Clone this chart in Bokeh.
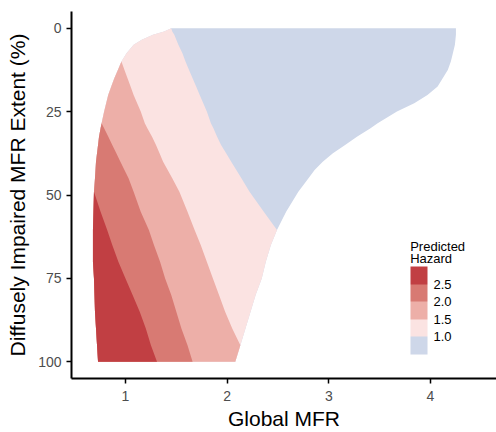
import numpy as np
from bokeh.plotting import figure
from bokeh.models import (Range1d, FixedTicker, ColorBar, LinearColorMapper,
                          PrintfTickFormatter, Label)
from bokeh.embed import file_html
from bokeh.resources import INLINE

# ---- data (boundaries of the predicted-hazard bands) ----
y_levels = [0, 1, 2, 3.5, 5, 7.5, 10, 12.5, 15, 17.5, 20, 22.5, 25, 28.5, 30, 32.5,
            35, 37.5, 40, 42.5, 45, 49, 55, 60.5, 65, 70, 75, 80, 85, 90, 95, 100]
left_edge = [1.45, 1.38, 1.27, 1.16, 1.08, 1.01, 0.96, 0.925, 0.89, 0.86, 0.83, 0.81,
             0.79, 0.765, 0.755, 0.74, 0.73, 0.72, 0.71, 0.705, 0.70, 0.69, 0.685,
             0.68, 0.68, 0.68, 0.69, 0.695, 0.70, 0.71, 0.72, 0.73]
right_edge = [4.25, 4.25, 4.25, 4.245, 4.24, 4.22, 4.20, 4.17, 4.12, 4.07, 3.97, 3.84,
              3.67, 3.48, 3.41, 3.28, 3.16, 3.04, 2.94, 2.86, 2.80, 2.70, 2.58, 2.49,
              2.43, 2.38, 2.34, 2.28, 2.23, 2.18, 2.13, 2.08]
nan = float("nan")
contour_2_5 = [nan] * 21 + [0.69, 0.755, 0.82, 0.87, 0.93, 1.00, 1.07, 1.14, 1.20,
                            1.25, 1.31]
contour_2_0 = [nan] * 13 + [0.765, 0.79, 0.83, 0.87, 0.91, 0.95, 0.99, 1.03, 1.08,
                            1.15, 1.23, 1.28, 1.34, 1.39, 1.45, 1.50, 1.55, 1.61,
                            1.66]
contour_1_5 = [nan] * 6 + [0.96, 0.99, 1.02, 1.05, 1.08, 1.115, 1.15, 1.19, 1.215,
                           1.26, 1.30, 1.335, 1.37, 1.415, 1.46, 1.53, 1.61, 1.68,
                           1.74, 1.80, 1.86, 1.92, 1.98, 2.05, 2.13] + [nan]
contour_1_0 = [1.45, 1.46, 1.48, 1.50, 1.52, 1.56, 1.59, 1.625, 1.66, 1.695, 1.73,
               1.765, 1.80, 1.84, 1.865, 1.90, 1.94, 1.99, 2.04, 2.09, 2.14, 2.22,
               2.36, 2.49] + [nan] * 8

hazard_breaks = [1.0, 1.5, 2.0, 2.5]
band_colors = ["#CED7E9", "#FBE3E2", "#EDAFA8", "#D87A73", "#C13F43"]  # low -> high
x_ticks = [1, 2, 3, 4]
y_ticks = [0, 25, 50, 75, 100]

FONT = "Liberation Sans"

Y = np.array(y_levels, dtype=float)
L = np.array(left_edge, dtype=float)
R = np.array(right_edge, dtype=float)


def close_contour(c):
    """Where a contour does not exist, pin it to the domain edge."""
    c = np.array(c, dtype=float)
    valid = np.where(~np.isnan(c))[0]
    out = c.copy()
    out[:valid[0]] = L[:valid[0]]
    out[valid[-1] + 1:] = R[valid[-1] + 1:]
    return out


c10 = close_contour(contour_1_0)
c15 = close_contour(contour_1_5)
c20 = close_contour(contour_2_0)
c25 = close_contour(contour_2_5)

p = figure(width=496, height=432, output_backend="svg", toolbar_location=None,
           x_range=Range1d(0.469, 4.649), y_range=Range1d(105, -5),
           min_border_left=71, min_border_right=0, min_border_top=11,
           min_border_bottom=52)
p.outline_line_color = None
p.grid.visible = False
p.background_fill_color = "white"

# painter's order: whole domain first, then higher-hazard bands on top
for right, color in zip([R, c10, c15, c20, c25], band_colors):
    p.harea(x1=L, x2=right, y=Y, fill_color=color)

for ax in (p.xaxis, p.yaxis):
    ax.axis_line_width = 2
    ax.axis_line_color = "black"
    ax.major_tick_line_color = "black"
    ax.major_tick_line_width = 1.5
    ax.major_tick_in = 0
    ax.major_tick_out = 5
    ax.minor_tick_line_color = None
    ax.major_label_text_font = FONT
    ax.major_label_text_font_size = "14px"
    ax.major_label_text_color = "#4D4D4D"
    ax.axis_label_text_font = FONT
    ax.axis_label_text_font_size = "21px"
    ax.axis_label_text_font_style = "normal"
    ax.axis_label_text_color = "black"

p.xaxis.ticker = FixedTicker(ticks=x_ticks)
p.yaxis.ticker = FixedTicker(ticks=y_ticks)
p.xaxis.axis_label = "Global MFR"
p.yaxis.axis_label = "Diffusely Impaired MFR Extent (%)"
p.xaxis.major_label_standoff = 7
p.xaxis.axis_label_standoff = 3
p.yaxis.major_label_standoff = 5
p.yaxis.axis_label_standoff = 6

mapper = LinearColorMapper(palette=band_colors, low=0.5, high=3.0)
cb = ColorBar(color_mapper=mapper, ticker=FixedTicker(ticks=hazard_breaks),
              formatter=PrintfTickFormatter(format="%.1f"),
              width=17, height=88, location=(339, 24), padding=0, margin=0,
              major_tick_line_color=None, minor_tick_line_color=None,
              bar_line_color=None, border_line_color=None,
              background_fill_alpha=0, label_standoff=6,
              major_label_text_font=FONT, major_label_text_font_size="13px",
              major_label_text_color="black", orientation="vertical")
p.add_layout(cb, "center")

for txt, yy in (("Predicted", 65.5), ("Hazard", 69.0)):
    p.add_layout(Label(x=3.80, y=yy, text=txt, text_font=FONT,
                       text_font_size="13px", text_color="black",
                       text_baseline="alphabetic"))

open("out.html", "w").write(file_html(p, INLINE))
